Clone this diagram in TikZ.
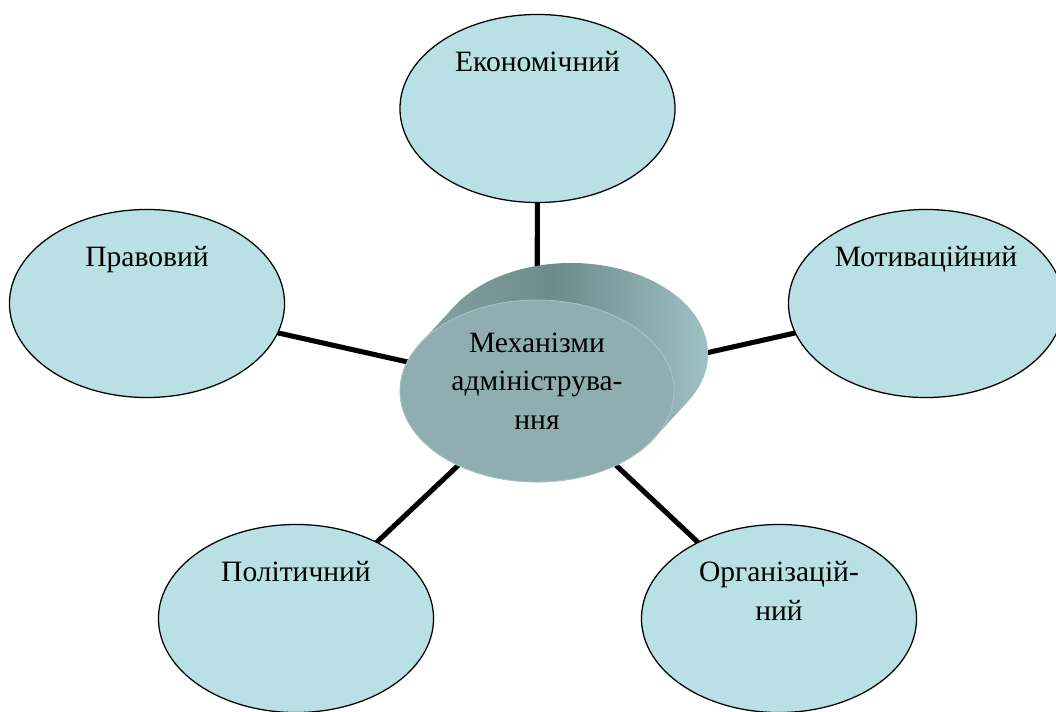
\documentclass[tikz,border=0pt]{standalone}
\usepackage{fontspec}
\setmainfont{Liberation Serif}
\usetikzlibrary{positioning, shapes.geometric, calc, backgrounds}
\definecolor{clight}{HTML}{B9E0E4}
\definecolor{cface}{HTML}{8FAEB0}
\definecolor{cdark}{HTML}{6E8A8B}
\definecolor{cleft}{HTML}{8CAAAB}
\definecolor{cside}{HTML}{A4C8CA}
\tikzset{
  every picture/.style={font=\fontsize{21pt}{27.5pt}\selectfont},
  oval/.style={ellipse, draw=black, line width=0.9pt, fill=clight, inner sep=0pt,
    minimum width=6.875cm, minimum height=4.7cm},
  word/.style={anchor=base, align=center, inner sep=0pt},
  link/.style={draw=black, line width=3.6pt},
}

\begin{document}
\begin{tikzpicture}[x=0.025cm, y=-0.025cm]
  \clip (0,0) rectangle (1056,711);
  % outer ovals
  \node[oval] (econ) at (537.5,108.5) {};
  \node[oval] (prav) at (147,303.5) {};
  \node[oval] (motyv) at (926,303.5) {};
  \node[oval] (polit) at (296,618.5) {};
  \node[oval] (org) at (779,618.5) {};
  \node[word] (econ-t) at ($(econ.center)+(0,-37.5)$) {Економічний};
  \node[word] (prav-t) at ($(prav.center)+(0,-37.5)$) {Правовий};
  \node[word] (motyv-t) at ($(motyv.center)+(0,-37.5)$) {Мотиваційний};
  \node[word] (polit-t) at ($(polit.center)+(0,-37.5)$) {Політичний};
  \node[word] (org-t) at ($(org.center)+(0,1.5)$) {Організацій-\\ний};
  % the drum in the middle
  \begin{scope}[shift={(537,391)}, y=0.025cm]
    \shade[left color=cleft, right color=cside, middle color=cdark]
      (-31.4:137 and 91) -- ++(34,37)
      arc[start angle=-31.4, end angle=148.6, x radius=137, y radius=91]
      -- (148.6:137 and 91)
      arc[start angle=148.6, end angle=328.6, x radius=137, y radius=91] -- cycle;
  \end{scope}
  \node[ellipse, fill=cface, draw=cface!75!white, line width=0.6pt, inner sep=0pt,
    minimum width=6.85cm, minimum height=4.55cm] (mech) at (537,391) {};
  \node[align=center, inner sep=0pt] (mech-t) at (537,381) {Механізми\\адмініструва-\\ння};
  \begin{scope}[on background layer]
    \foreach \n in {econ, prav, motyv, polit, org}
      \draw[link] (mech.center) -- (\n.center);
  \end{scope}
\end{tikzpicture}
\end{document}
